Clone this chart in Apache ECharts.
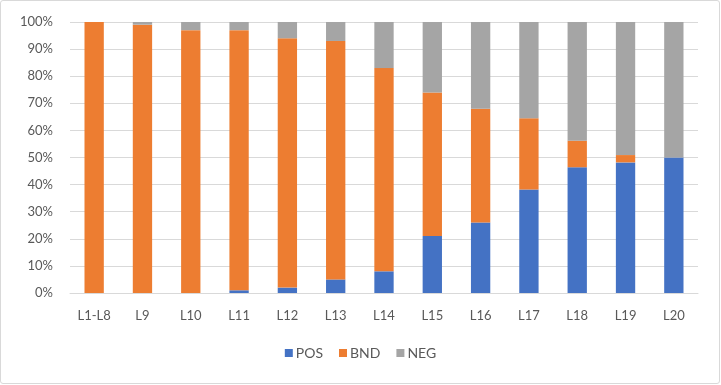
<!DOCTYPE html>
<html>
<head>
<meta charset="utf-8">
<script src="https://cdn.jsdelivr.net/npm/echarts@6/dist/echarts.min.js"></script>
<style>
  html, body { margin: 0; padding: 0; background: #fff; }
  #frame {
    position: absolute; left: 0; top: 0;
    width: 718px; height: 382px;
    border: 1px solid #d9d9d9; border-radius: 3px;
  }
  #chart { position: absolute; left: 0; top: 0; width: 721px; height: 385px; }
</style>
</head>
<body>
<div id="frame"></div>
<div id="chart"></div>
<script>
const categories = ['L1-L8', 'L9', 'L10', 'L11', 'L12', 'L13', 'L14', 'L15', 'L16', 'L17', 'L18', 'L19', 'L20'];
const posValues = [0, 0, 0, 1, 2, 5, 8, 21, 26, 38.2, 46.4, 48.2, 50];
const bndValues = [100, 99, 97, 96, 92, 88, 75, 53, 42, 26.3, 9.8, 2.7, 0];
const negValues = [0, 1, 3, 3, 6, 7, 17, 26, 32, 35.5, 43.8, 49.1, 50];

const fontFamily = 'Lato, "Open Sans", sans-serif';
const textColor = '#595959';

const chart = echarts.init(document.getElementById('chart'));

function barSeries(name, data, color) {
  return {
    name: name,
    type: 'bar',
    stack: 'total',
    data: data,
    barWidth: '40%',
    itemStyle: { color: color },
    emphasis: { disabled: true }
  };
}

chart.setOption({
  animation: false,
  backgroundColor: 'transparent',
  textStyle: { fontFamily: fontFamily },
  grid: { left: 70, right: 23, top: 22, bottom: 92 },
  legend: {
    data: ['POS', 'BND', 'NEG'],
    bottom: 20,
    left: 'center',
    itemWidth: 8,
    itemHeight: 8,
    itemGap: 16,
    icon: 'rect',
    textStyle: { color: textColor, fontSize: 14, fontFamily: fontFamily, padding: [0, 0, 0, -2] }
  },
  xAxis: {
    type: 'category',
    data: categories,
    axisTick: { show: false },
    axisLine: { lineStyle: { color: '#d9d9d9' } },
    axisLabel: { color: textColor, fontSize: 13, margin: 16 }
  },
  yAxis: {
    type: 'value',
    min: 0,
    max: 100,
    interval: 10,
    axisLabel: { color: textColor, fontSize: 13, formatter: '{value}%', margin: 17 },
    axisLine: { show: false },
    axisTick: { show: false },
    splitLine: { lineStyle: { color: '#d9d9d9' } }
  },
  series: [
    barSeries('POS', posValues, '#4472C4'),
    barSeries('BND', bndValues, '#ED7D31'),
    barSeries('NEG', negValues, '#A5A5A5')
  ]
});
</script>
</body>
</html>
